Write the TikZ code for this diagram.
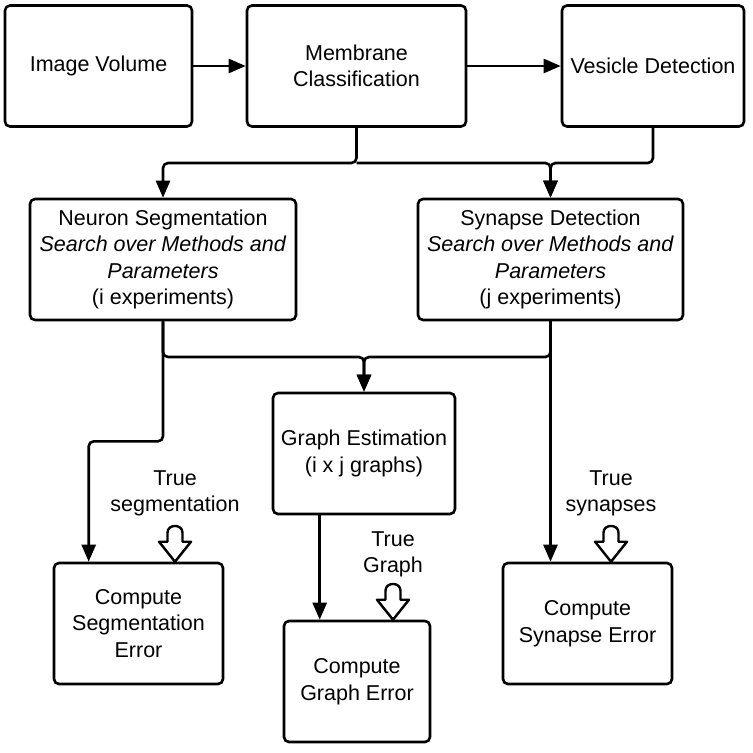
\documentclass[tikz,border=0pt]{standalone}
\usepackage{fontspec}
\setmainfont{Liberation Sans}
\usetikzlibrary{calc,positioning,arrows.meta}

\begin{document}
\begin{tikzpicture}[x=1pt, y=-1pt,
  lbl/.style={align=center, font=\fontsize{21.5}{26.5}\selectfont},
  arr/.style={line width=2.6pt, rounded corners=5pt, -{Triangle[length=17pt,width=14pt]}},
  pics/trueptr/.style={code={\draw[line width=2.4pt, fill=white, line join=round] (0,0) -- (-16,-20) -- (-7.5,-20) -- (-7.5,-29) .. controls (-7.5,-38) and (7.5,-38) .. (7.5,-29) -- (7.5,-20) -- (16,-20) -- cycle;}}]
\tikzstyle{blk}=[lbl, draw, line width=2.6pt, rounded corners=5pt, inner sep=2pt, minimum height=121pt]
\useasboundingbox (0,0) rectangle (753,753);
% top row
\node[blk, minimum width=187pt] (img) at (98.5,66) {Image Volume};
\node[blk, minimum width=219pt] (mem) at (356.5,66) {Membrane\\Classification};
\node[blk, minimum width=182pt] (ves) at (653,66) {Vesicle Detection};
% search
\node[blk, minimum width=266pt] (neu) at (163,259.5) {Neuron Segmentation\\\textit{Search over Methods and}\\\textit{Parameters}\\(i experiments)};
\node[blk, minimum width=265pt] (syn) at (550.5,259.5) {Synapse Detection\\\textit{Search over Methods and}\\\textit{Parameters}\\(j experiments)};
\node[blk, minimum width=182pt] (gest) at (364,453.5) {Graph Estimation\\(i x j graphs)};
% errors
\node[blk, minimum width=169pt] (segerr) at (138.5,623.5) {Compute\\Segmentation\\Error};
\node[blk, minimum width=146pt] (grerr) at (357,681.5) {Compute\\Graph Error};
\node[blk, minimum width=169pt] (synerr) at (587.5,623.5) {Compute\\Synapse Error};
% ground truth
\node[lbl] (tseg) at (175,493.5) {True\\segmentation};
\node[lbl] (tgr) at (393,554.5) {True\\Graph};
\node[lbl] (tsyn) at (611,493.5) {True\\synapses};
\pic at (segerr.north -| tseg) {trueptr};
\pic at (grerr.north -| tgr) {trueptr};
\pic at (synerr.north -| tsyn) {trueptr};
% connectors
\foreach \i/\j in {img/mem,mem/ves}{\draw[arr] (\i) -- (\j);}
\coordinate (splitA) at (mem.south |- 0,163);
\coordinate (splitB) at (gest.north |- 0,357);
\coordinate (segin) at ($(segerr.north west)+(36,0)$);
\coordinate (gout) at ($(gest.south west)+(48,0)$);
\draw[arr] (mem.south) -- (splitA) -| (neu.north);
\draw[arr] (splitA) -| (syn.north);
\draw[arr] (ves.south) |- (splitA -| syn.north) -- (syn.north);
\draw[arr] (neu.south) |- (splitB) -- (gest.north);
\draw[arr] (syn.south) |- (splitB) -- (gest.north);
\draw[arr] (neu.south) -- ++(0,120) -| (segin);
\draw[arr] (syn.south) -- (syn.south |- synerr.north);
\draw[arr] (gout) -- (gout |- grerr.north);
\end{tikzpicture}
\end{document}
